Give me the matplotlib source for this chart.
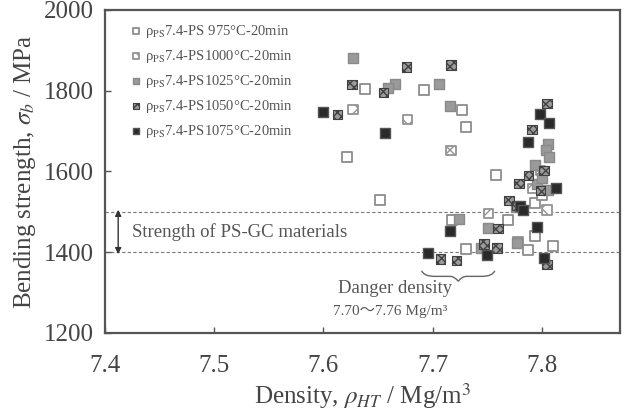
import matplotlib
matplotlib.use("Agg")
import matplotlib.pyplot as plt
from matplotlib.path import Path
from matplotlib.patches import PathPatch

plt.rcParams['font.family'] = ['Liberation Serif', 'Noto Sans CJK JP']
plt.rcParams['mathtext.fontset'] = 'stix'

# density (Mg/m3) and bending strength (MPa) per heat treatment
x975 = [7.638, 7.692, 7.727, 7.731, 7.622, 7.652, 7.758, 7.718, 7.769, 7.731,
        7.778, 7.787, 7.794, 7.794, 7.810, 7.800]
y975 = [1805, 1802, 1753, 1709, 1635, 1528, 1590, 1479, 1479, 1407,
        1425, 1405, 1521, 1440, 1415, 1541]

x1000 = [7.627, 7.677, 7.717, 7.751, 7.805, 7.799, 7.792]
y1000 = [1753, 1728, 1652, 1496, 1504, 1602, 1558]

x1025 = [7.627, 7.666, 7.706, 7.716, 7.724, 7.751, 7.744, 7.777, 7.806,
         7.804, 7.807, 7.794, 7.776, 7.796, 7.659, 7.800, 7.806]
y1025 = [1881, 1817, 1817, 1763, 1481, 1459, 1410, 1422, 1669,
         1652, 1635, 1615, 1511, 1570, 1807, 1583, 1553]

x1050 = [7.676, 7.717, 7.626, 7.655, 7.613, 7.805, 7.791, 7.802, 7.779,
         7.770, 7.777, 7.760, 7.707, 7.722, 7.747, 7.759, 7.805, 7.788, 7.799]
y1050 = [1859, 1864, 1815, 1795, 1741, 1768, 1704, 1602, 1570,
         1528, 1516, 1459, 1383, 1380, 1420, 1410, 1370, 1590, 1553]

x1075 = [7.600, 7.656, 7.798, 7.807, 7.787, 7.813, 7.780, 7.783, 7.716,
         7.796, 7.696, 7.750, 7.802]
y1075 = [1746, 1696, 1743, 1719, 1672, 1560, 1514, 1504, 1452,
         1462, 1398, 1393, 1385]

labels = [r'ρ$_{\rm PS}$7.4-PS 975°C-20min',
          r'ρ$_{\rm PS}$7.4-PS1000°C-20min',
          r'ρ$_{\rm PS}$7.4-PS1025°C-20min',
          r'ρ$_{\rm PS}$7.4-PS1050°C-20min',
          r'ρ$_{\rm PS}$7.4-PS1075°C-20min']

fig = plt.figure(figsize=(6.33, 4.12), dpi=100)
ax = fig.add_axes([0.166, 0.192, 0.814, 0.784])

sz = 46
ax.scatter(x975, y975, s=sz, marker='s', facecolor='white', edgecolor='#8c8c8c',
           linewidths=1.3, label=labels[0], zorder=3)
ax.scatter(x1000, y1000, s=sz, marker='s', facecolor='white', edgecolor='#939393',
           hatch='xx', linewidths=1.3, label=labels[1], zorder=3)
ax.scatter(x1025, y1025, s=sz, marker='s', facecolor='#9a9a9a', edgecolor='#8a8a8a',
           linewidths=1.0, label=labels[2], zorder=3)
ax.scatter(x1050, y1050, s=sz, marker='s', facecolor='#9a9a9a', edgecolor='#404040',
           hatch='xxxx', linewidths=0.8, label=labels[3], zorder=3)
ax.scatter(x1075, y1075, s=sz, marker='s', facecolor='#2a2a2a', edgecolor='#555555',
           linewidths=1.0, label=labels[4], zorder=3)

# reference band
for yv in (1400, 1500):
    ax.axhline(yv, color='#777777', linestyle=(0, (3, 2)), linewidth=0.8, zorder=1)
ax.annotate('', xy=(7.412, 1395), xytext=(7.412, 1505),
            arrowprops=dict(arrowstyle='<|-|>', color='#333333', lw=1.0,
                            mutation_scale=9, shrinkA=0, shrinkB=0))
ax.text(7.425, 1449, 'Strength of PS-GC materials', fontsize=13.5,
        color='#555555', va='center', ha='left')

# danger density brace
verts = [(7.690, 1354), (7.692, 1340), (7.702, 1340),
         (7.716, 1340), (7.720, 1340), (7.7235, 1328),
         (7.727, 1340), (7.731, 1340), (7.745, 1340),
         (7.755, 1340), (7.757, 1354)]
codes = [Path.MOVETO, Path.CURVE3, Path.CURVE3,
         Path.LINETO, Path.CURVE3, Path.CURVE3,
         Path.CURVE3, Path.CURVE3, Path.LINETO,
         Path.CURVE3, Path.CURVE3]
ax.add_patch(PathPatch(Path(verts, codes), facecolor='none', edgecolor='#666666', lw=1.0))
ax.text(7.613, 1309, 'Danger density', fontsize=13.5, color='#555555',
        va='center', ha='left')
ax.text(7.609, 1254, '7.70〜7.76 Mg/m³', fontsize=11, color='#555555',
        va='center', ha='left')

ax.set_xlim(7.4, 7.872)
ax.set_ylim(1200, 2000)
ax.set_xticks([7.4, 7.5, 7.6, 7.7, 7.8])
ax.set_yticks([1200, 1400, 1600, 1800, 2000])
ax.tick_params(direction='in', length=4, width=1.0, labelsize=18,
               colors='#555555', labelcolor='#444444', pad=8)
ax.tick_params(axis='x', pad=16)
for sp in ax.spines.values():
    sp.set_linewidth(1.6)
    sp.set_color('#555555')

ax.set_xlabel(r'Density, $\rho_{HT}$ / Mg/m$^3$', fontsize=18, color='#444444', labelpad=3)
ax.set_ylabel(r'Bending strength, $\sigma_b$ / MPa', fontsize=18, color='#444444', labelpad=4)

ax.legend(loc='upper left', bbox_to_anchor=(0.02, 1.0), frameon=False,
          fontsize=10.5, markerscale=0.6, handletextpad=0.1, labelspacing=0.55,
          handlelength=1.0, labelcolor='#555555')

fig.savefig('out.png', dpi=100)
